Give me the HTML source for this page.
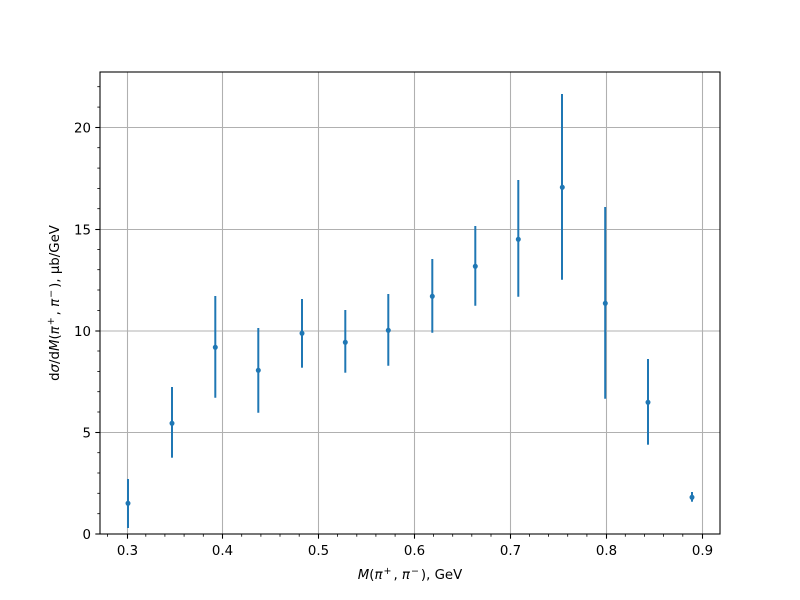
<!DOCTYPE html>
<html>
<head>
<meta charset="utf-8">
<style>
html,body{margin:0;padding:0;background:#fff;}
svg{display:block;}
text{font-family:"DejaVu Sans","Liberation Sans",sans-serif;font-size:13.33px;fill:#000;}
</style>
</head>
<body>
<svg width="800" height="600" viewBox="0 0 800 600" xmlns="http://www.w3.org/2000/svg">
<rect x="0" y="0" width="800" height="600" fill="#fff"/>
<!-- grid -->
<g stroke="#b0b0b0" stroke-width="1.07">
<line x1="127.5" y1="72" x2="127.5" y2="534"/>
<line x1="222.5" y1="72" x2="222.5" y2="534"/>
<line x1="318.5" y1="72" x2="318.5" y2="534"/>
<line x1="414.5" y1="72" x2="414.5" y2="534"/>
<line x1="510.5" y1="72" x2="510.5" y2="534"/>
<line x1="606.5" y1="72" x2="606.5" y2="534"/>
<line x1="702.5" y1="72" x2="702.5" y2="534"/>
<line x1="100" y1="432.5" x2="720" y2="432.5"/>
<line x1="100" y1="331" x2="720" y2="331"/>
<line x1="100" y1="229.5" x2="720" y2="229.5"/>
<line x1="100" y1="127.5" x2="720" y2="127.5"/>
</g>
<!-- error bars -->
<g stroke="#1f77b4" stroke-width="2">
<line x1="128" y1="479" x2="128" y2="528"/>
<line x1="172" y1="387" x2="172" y2="457.7"/>
<line x1="215.3" y1="296" x2="215.3" y2="397.7"/>
<line x1="258.3" y1="328" x2="258.3" y2="412.7"/>
<line x1="302" y1="299" x2="302" y2="367.7"/>
<line x1="345.3" y1="310" x2="345.3" y2="372.7"/>
<line x1="388.3" y1="294" x2="388.3" y2="365.7"/>
<line x1="432.3" y1="259" x2="432.3" y2="332.7"/>
<line x1="475.3" y1="226" x2="475.3" y2="305.7"/>
<line x1="518.3" y1="180" x2="518.3" y2="296.7"/>
<line x1="562" y1="94" x2="562" y2="279.7"/>
<line x1="605.2" y1="207" x2="605.2" y2="398.7"/>
<line x1="648" y1="359" x2="648" y2="444.7"/>
<line x1="692" y1="492" x2="692" y2="501.7"/>
</g>
<g fill="#1f77b4">
<circle cx="128" cy="503.3" r="2.5"/>
<circle cx="172" cy="423.3" r="2.5"/>
<circle cx="215.3" cy="347.3" r="2.5"/>
<circle cx="258.3" cy="370.3" r="2.5"/>
<circle cx="302" cy="333.3" r="2.5"/>
<circle cx="345.3" cy="342.3" r="2.5"/>
<circle cx="388.3" cy="330.3" r="2.5"/>
<circle cx="432.3" cy="296.3" r="2.5"/>
<circle cx="475.3" cy="266.3" r="2.5"/>
<circle cx="518.3" cy="239.3" r="2.5"/>
<circle cx="562.3" cy="187.3" r="2.5"/>
<circle cx="605.3" cy="303.3" r="2.5"/>
<circle cx="648" cy="402.3" r="2.5"/>
<circle cx="692" cy="497.3" r="2.5"/>
</g>
<!-- spines -->
<rect x="100" y="72" width="620" height="462" fill="none" stroke="#000" stroke-width="1.07"/>
<g stroke="#000" stroke-width="1.07">
<line x1="127.5" y1="534" x2="127.5" y2="538.7"/>
<line x1="222.5" y1="534" x2="222.5" y2="538.7"/>
<line x1="318.5" y1="534" x2="318.5" y2="538.7"/>
<line x1="414.5" y1="534" x2="414.5" y2="538.7"/>
<line x1="510.5" y1="534" x2="510.5" y2="538.7"/>
<line x1="606.5" y1="534" x2="606.5" y2="538.7"/>
<line x1="702.5" y1="534" x2="702.5" y2="538.7"/>
<g stroke-width="0.8">
<line x1="107.4" y1="534" x2="107.4" y2="536.7"/>
<line x1="145.8" y1="534" x2="145.8" y2="536.7"/>
<line x1="164.9" y1="534" x2="164.9" y2="536.7"/>
<line x1="184.1" y1="534" x2="184.1" y2="536.7"/>
<line x1="203.3" y1="534" x2="203.3" y2="536.7"/>
<line x1="241.7" y1="534" x2="241.7" y2="536.7"/>
<line x1="260.9" y1="534" x2="260.9" y2="536.7"/>
<line x1="280.0" y1="534" x2="280.0" y2="536.7"/>
<line x1="299.2" y1="534" x2="299.2" y2="536.7"/>
<line x1="337.6" y1="534" x2="337.6" y2="536.7"/>
<line x1="356.8" y1="534" x2="356.8" y2="536.7"/>
<line x1="375.9" y1="534" x2="375.9" y2="536.7"/>
<line x1="395.1" y1="534" x2="395.1" y2="536.7"/>
<line x1="433.5" y1="534" x2="433.5" y2="536.7"/>
<line x1="452.7" y1="534" x2="452.7" y2="536.7"/>
<line x1="471.8" y1="534" x2="471.8" y2="536.7"/>
<line x1="491.0" y1="534" x2="491.0" y2="536.7"/>
<line x1="529.4" y1="534" x2="529.4" y2="536.7"/>
<line x1="548.6" y1="534" x2="548.6" y2="536.7"/>
<line x1="567.7" y1="534" x2="567.7" y2="536.7"/>
<line x1="586.9" y1="534" x2="586.9" y2="536.7"/>
<line x1="625.3" y1="534" x2="625.3" y2="536.7"/>
<line x1="644.5" y1="534" x2="644.5" y2="536.7"/>
<line x1="663.6" y1="534" x2="663.6" y2="536.7"/>
<line x1="682.8" y1="534" x2="682.8" y2="536.7"/>
</g>
<line x1="95.3" y1="534" x2="100" y2="534"/>
<line x1="95.3" y1="432.5" x2="100" y2="432.5"/>
<line x1="95.3" y1="331" x2="100" y2="331"/>
<line x1="95.3" y1="229.5" x2="100" y2="229.5"/>
<line x1="95.3" y1="127.5" x2="100" y2="127.5"/>
<g stroke-width="0.8">
<line x1="97.3" y1="513.7" x2="100" y2="513.7"/>
<line x1="97.3" y1="493.3" x2="100" y2="493.3"/>
<line x1="97.3" y1="473.0" x2="100" y2="473.0"/>
<line x1="97.3" y1="452.7" x2="100" y2="452.7"/>
<line x1="97.3" y1="412.0" x2="100" y2="412.0"/>
<line x1="97.3" y1="391.7" x2="100" y2="391.7"/>
<line x1="97.3" y1="371.4" x2="100" y2="371.4"/>
<line x1="97.3" y1="351.0" x2="100" y2="351.0"/>
<line x1="97.3" y1="310.4" x2="100" y2="310.4"/>
<line x1="97.3" y1="290.0" x2="100" y2="290.0"/>
<line x1="97.3" y1="269.7" x2="100" y2="269.7"/>
<line x1="97.3" y1="249.4" x2="100" y2="249.4"/>
<line x1="97.3" y1="208.7" x2="100" y2="208.7"/>
<line x1="97.3" y1="188.4" x2="100" y2="188.4"/>
<line x1="97.3" y1="168.1" x2="100" y2="168.1"/>
<line x1="97.3" y1="147.7" x2="100" y2="147.7"/>
<line x1="97.3" y1="107.1" x2="100" y2="107.1"/>
<line x1="97.3" y1="86.7" x2="100" y2="86.7"/>
</g>
</g>
<g text-anchor="middle">
<text x="127.5" y="555">0.3</text>
<text x="222.5" y="555">0.4</text>
<text x="318.5" y="555">0.5</text>
<text x="414.5" y="555">0.6</text>
<text x="510.5" y="555">0.7</text>
<text x="606.5" y="555">0.8</text>
<text x="702.5" y="555">0.9</text>
</g>
<g text-anchor="end">
<text x="91" y="538.8">0</text>
<text x="91" y="437.3">5</text>
<text x="91" y="335.8">10</text>
<text x="91" y="234.3">15</text>
<text x="91" y="132.3">20</text>
</g>
<text x="410" y="579" text-anchor="middle"><tspan font-style="italic">M</tspan>(<tspan font-style="italic">π</tspan><tspan font-size="9.5px" dy="-5" dx="1">+</tspan><tspan dy="5" dx="2">, </tspan><tspan font-style="italic">π</tspan><tspan font-size="9.5px" dy="-5" dx="1">−</tspan><tspan dy="5" dx="2">), GeV</tspan></text>
<text transform="translate(59,303) rotate(-90)" text-anchor="middle">d<tspan font-style="italic">σ</tspan>/d<tspan font-style="italic">M</tspan>(<tspan font-style="italic">π</tspan><tspan font-size="9.5px" dy="-5" dx="1">+</tspan><tspan dy="5" dx="2">, </tspan><tspan font-style="italic">π</tspan><tspan font-size="9.5px" dy="-5" dx="1">−</tspan><tspan dy="5" dx="2">), μb/GeV</tspan></text>
</svg>
</body>
</html>
